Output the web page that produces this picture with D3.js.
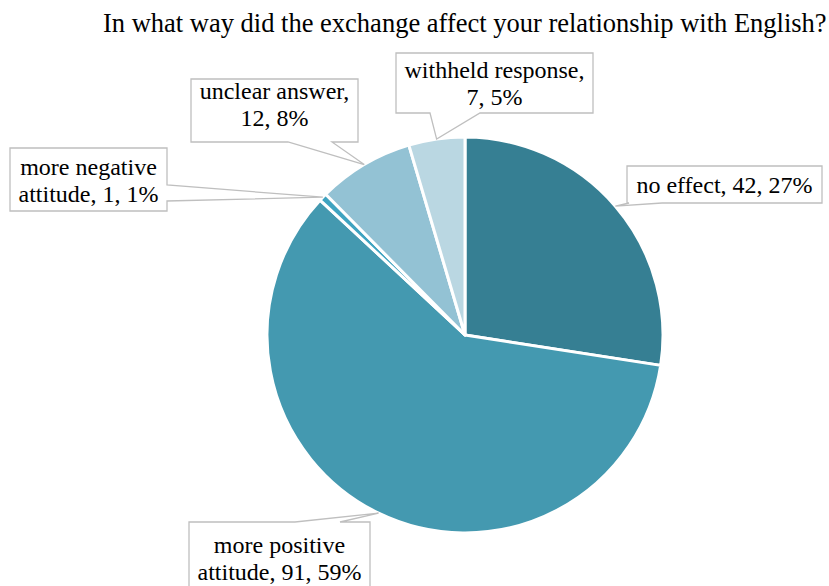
<!DOCTYPE html>
<html>
<head>
<meta charset="utf-8">
<script src="https://cdn.jsdelivr.net/npm/d3@7"></script>
<style>
  html, body { margin: 0; padding: 0; background: #fff; }
  svg { display: block; }
</style>
</head>
<body>
<svg id="chart" width="829" height="586"></svg>
<script>
// ---- Data ----
const title = "In what way did the exchange affect your relationship with English?";
const categories = ["no effect", "more positive attitude", "more negative attitude", "unclear answer", "withheld response"];
const values = [42, 91, 1, 12, 7];
const percents = ["27%", "59%", "1%", "8%", "5%"];
const labelLines = [
  ["no effect, 42, 27%"],
  ["more positive", "attitude, 91, 59%"],
  ["more negative", "attitude, 1, 1%"],
  ["unclear answer,", "12, 8%"],
  ["withheld response,", "7, 5%"]
];
const colors = ["#367f93", "#4499b0", "#3fa3c0", "#93c2d4", "#bad7e2"];

// ---- Layout (callout boxes: x, y, w, h, pointer side, base a1, base a2, first text baseline) ----
const callouts = [
  { x: 627, y: 166, w: 195, h: 37, side: "bottom", a: [662, 629], base: 193 },
  { x: 189, y: 522, w: 181, h: 70, side: "top", a: [295, 340], base: 553 },
  { x: 10, y: 148, w: 157, h: 63, side: "right", a: [185, 201], base: 175 },
  { x: 191, y: 79, w: 167, h: 63, side: "bottom", a: [332, 288], base: 99 },
  { x: 396, y: 53, w: 197, h: 60, side: "bottom", a: [480, 430], base: 78 }
];

const FONT = "'Liberation Serif', 'Times New Roman', Tinos, 'DejaVu Serif', serif";
const svg = d3.select("#chart");
const cx = 465, cy = 335, r = 198;
const fontSize = 24, lineH = 27;

svg.append("text")
  .attr("x", 103).attr("y", 32)
  .attr("font-family", FONT)
  .attr("font-size", 26.5)
  .text(title);

const pie = d3.pie().sort(null).value(d => d)(values);
const arc = d3.arc().innerRadius(0).outerRadius(r);

const g = svg.append("g").attr("transform", `translate(${cx},${cy})`);
g.selectAll("path.slice")
  .data(pie)
  .join("path")
  .attr("class", "slice")
  .attr("d", arc)
  .attr("fill", (d, i) => colors[i])
  .attr("stroke", "#fff")
  .attr("stroke-width", 3)
  .attr("stroke-linejoin", "round");

function calloutPath(c, tip) {
  const { x, y, w, h, side, a } = c;
  const pts = [];
  const TL = [x, y], TR = [x + w, y], BR = [x + w, y + h], BL = [x, y + h];
  pts.push(TL);
  if (side === "top") { pts.push([a[0], y], tip, [a[1], y]); }
  pts.push(TR);
  if (side === "right") { pts.push([x + w, a[0]], tip, [x + w, a[1]]); }
  pts.push(BR);
  if (side === "bottom") { pts.push([a[0], y + h], tip, [a[1], y + h]); }
  pts.push(BL);
  if (side === "left") { pts.push([x, a[0]], tip, [x, a[1]]); }
  return "M" + pts.map(p => p.join(",")).join("L") + "Z";
}

pie.forEach((d, i) => {
  const c = callouts[i];
  const ang = (d.startAngle + d.endAngle) / 2;
  const tip = [cx + r * Math.sin(ang), cy - r * Math.cos(ang)];
  svg.append("path")
    .attr("d", calloutPath(c, tip))
    .attr("fill", "#fff")
    .attr("stroke", "#bfbfbf")
    .attr("stroke-width", 1.3)
    .attr("stroke-linejoin", "miter");
  const t = svg.append("text")
    .attr("text-anchor", "middle")
    .attr("font-family", FONT)
    .attr("font-size", fontSize);
  labelLines[i].forEach((ln, j) => {
    t.append("tspan")
      .attr("x", c.x + c.w / 2)
      .attr("y", c.base + j * lineH)
      .text(ln);
  });
});
</script>
</body>
</html>
